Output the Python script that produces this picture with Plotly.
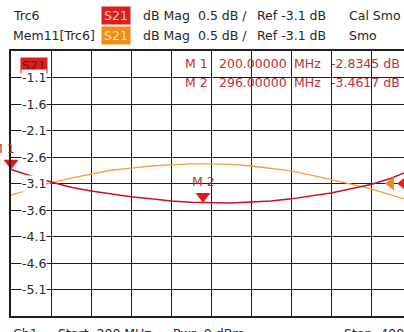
import plotly.graph_objects as go

# ---- data -------------------------------------------------------------
freq_mhz = [200, 210, 220, 230, 240, 250, 260, 270, 280, 290, 300,
            310, 320, 330, 340, 350, 360, 370, 380, 390, 400]
trc6_db = [-2.8345, -2.96, -3.07, -3.17, -3.24, -3.30, -3.35, -3.39, -3.43, -3.455, -3.465,
           -3.47, -3.45, -3.43, -3.39, -3.34, -3.28, -3.20, -3.12, -3.00, -2.85]
mem11_db = [-3.32, -3.20, -3.09, -3.00, -2.92, -2.85, -2.81, -2.77, -2.75, -2.73, -2.73,
            -2.74, -2.77, -2.81, -2.86, -2.94, -3.02, -3.11, -3.20, -3.32, -3.43]

marker_names = ["M 1", "M 2"]
marker_freq = [200.0, 296.0]
marker_db = [-2.8345, -3.4617]

ref_db = -3.1
scale_db = 0.5
y_tick_vals = [-1.1, -1.6, -2.1, -2.6, -3.1, -3.6, -4.1, -4.6, -5.1]
start_mhz, stop_mhz = 200, 400

# ---- geometry -----------------------------------------------------------
W, H = 404, 332
ML, MR, MT, MB = 11, 0, 51, 16
PW, PH = W - ML - MR, H - MT - MB
PX_PER_MHZ = 2.0
y_lo, y_hi = ref_db - 5 * scale_db, ref_db + 5 * scale_db
x_hi = start_mhz + PW / PX_PER_MHZ

FONT = "DejaVu Sans"
FS = 12.5
TXT = "#262626"
RED = "#c8102e"
RED_BOX = "#d9201e"
ORANGE = "#f0a23c"
ORANGE_BOX = "#f08c1a"
MK_TXT = "#c0303a"


def px(x):
    return (x - ML) / PW


def py(y):
    return (H - MB - y) / PH


fig = go.Figure()

fig.add_trace(go.Scatter(x=freq_mhz, y=mem11_db, mode="lines",
                         line=dict(color=ORANGE, width=1.3), hoverinfo="skip"))
fig.add_trace(go.Scatter(x=freq_mhz, y=trc6_db, mode="lines",
                         line=dict(color=RED, width=1.5), hoverinfo="skip"))

# marker triangles: tip sits on the trace value (overlay axis shifted by half a symbol)
tri = 13
shift_db = (tri / 2) / PH * (y_hi - y_lo)
fig.add_trace(go.Scatter(x=marker_freq, y=marker_db, mode="markers", yaxis="y2",
                         marker=dict(symbol="triangle-down", size=tri, color="#e8141c",
                                     line=dict(width=0)),
                         cliponaxis=False, hoverinfo="skip"))

# reference level arrows at the right edge
fig.add_trace(go.Scatter(x=[stop_mhz - 4, stop_mhz - 10], y=[ref_db, ref_db], mode="markers",
                         marker=dict(symbol="triangle-left", size=12,
                                     color=["#ee1c1c", "#f08a1e"], line=dict(width=0)),
                         cliponaxis=False, hoverinfo="skip"))

ann = []


def text(x, y, s, color=TXT, anchor="left", bg=None, **kw):
    d = dict(xref="paper", yref="paper", x=px(x), y=py(y), text=s, showarrow=False,
             xanchor=anchor, yanchor="middle",
             font=dict(family=FONT, size=FS, color=color), borderpad=0)
    if bg:
        d["bgcolor"] = bg
    d.update(kw)
    ann.append(d)


# header rows
for yy, name, box_bg, box_fg, tail in [
        (15, "Trc6", RED_BOX, "#ffc8c0", "Cal Smo"),
        (35, "Mem11[Trc6]", ORANGE_BOX, "#ffe6b0", "Smo")]:
    text(12, yy, name)
    ann.append(dict(xref="paper", yref="paper", x=px(116), y=py(yy), text="S21",
                    showarrow=False, xanchor="center", yanchor="middle", width=28, height=17,
                    bgcolor=box_bg, borderpad=0,
                    font=dict(family=FONT, size=FS, color=box_fg)))
    text(142, yy, "dB Mag")
    text(197, yy, f"{scale_db} dB /")
    text(256, yy, f"Ref {ref_db:.1f} dB")
    text(348, yy, tail)

# trace tag inside the diagram
ann.append(dict(xref="paper", yref="paper", x=px(34), y=py(65.5), text="S21",
                showarrow=False, xanchor="center", yanchor="middle", width=26, height=15,
                bgcolor=RED_BOX, borderpad=0,
                font=dict(family=FONT, size=FS, color="#8a0a0a")))

# y scale labels on white patches
for v in y_tick_vals:
    ann.append(dict(xref="paper", yref="y", x=px(47), y=v, text=f"{v:.1f}",
                    showarrow=False, xanchor="right", yanchor="middle",
                    bgcolor="white", borderpad=0,
                    font=dict(family=FONT, size=FS, color=TXT)))

# marker table
for i, (nm, f, v) in enumerate(zip(marker_names, marker_freq, marker_db)):
    yy = 63 + 19.5 * i
    text(184, yy, nm, MK_TXT)
    text(218, yy, f"{f:.5f}", MK_TXT)
    text(293, yy, "MHz", MK_TXT)
    text(330, yy, f"{v:.4f} dB", MK_TXT)

# marker labels above the triangles
for nm, f, v, xs in zip(marker_names, marker_freq, marker_db, [-8, 0]):
    ann.append(dict(xref="x", yref="y", x=f, y=v, text=nm, showarrow=False,
                    xanchor="center", yanchor="middle", xshift=xs, yshift=21,
                    font=dict(family=FONT, size=FS, color=MK_TXT)))

# footer
text(12, 333, "Ch1")
text(57, 333, f"Start  {start_mhz} MHz")
text(172, 333, "Pwr  0 dBm")
text(343, 333, f"Stop  {stop_mhz} MHz")

grid = dict(showgrid=True, gridcolor="#1e1e1e", gridwidth=1.3, zeroline=False,
            showticklabels=False, ticks="")
fig.update_layout(
    width=W, height=H, margin=dict(l=ML, r=MR, t=MT, b=MB, pad=0),
    paper_bgcolor="white", plot_bgcolor="white", showlegend=False,
    xaxis=dict(range=[start_mhz, x_hi], dtick=(stop_mhz - start_mhz) / 10, tick0=start_mhz,
               showline=True, mirror=True, linecolor="#1e1e1e", linewidth=1.6, **grid),
    yaxis=dict(range=[y_lo, y_hi], dtick=scale_db, tick0=ref_db,
               showline=True, mirror=False, linecolor="#1e1e1e", linewidth=1.6, **grid),
    yaxis2=dict(range=[y_lo - shift_db, y_hi - shift_db], overlaying="y", visible=False),
    annotations=ann,
)

fig.write_html("out.html")
